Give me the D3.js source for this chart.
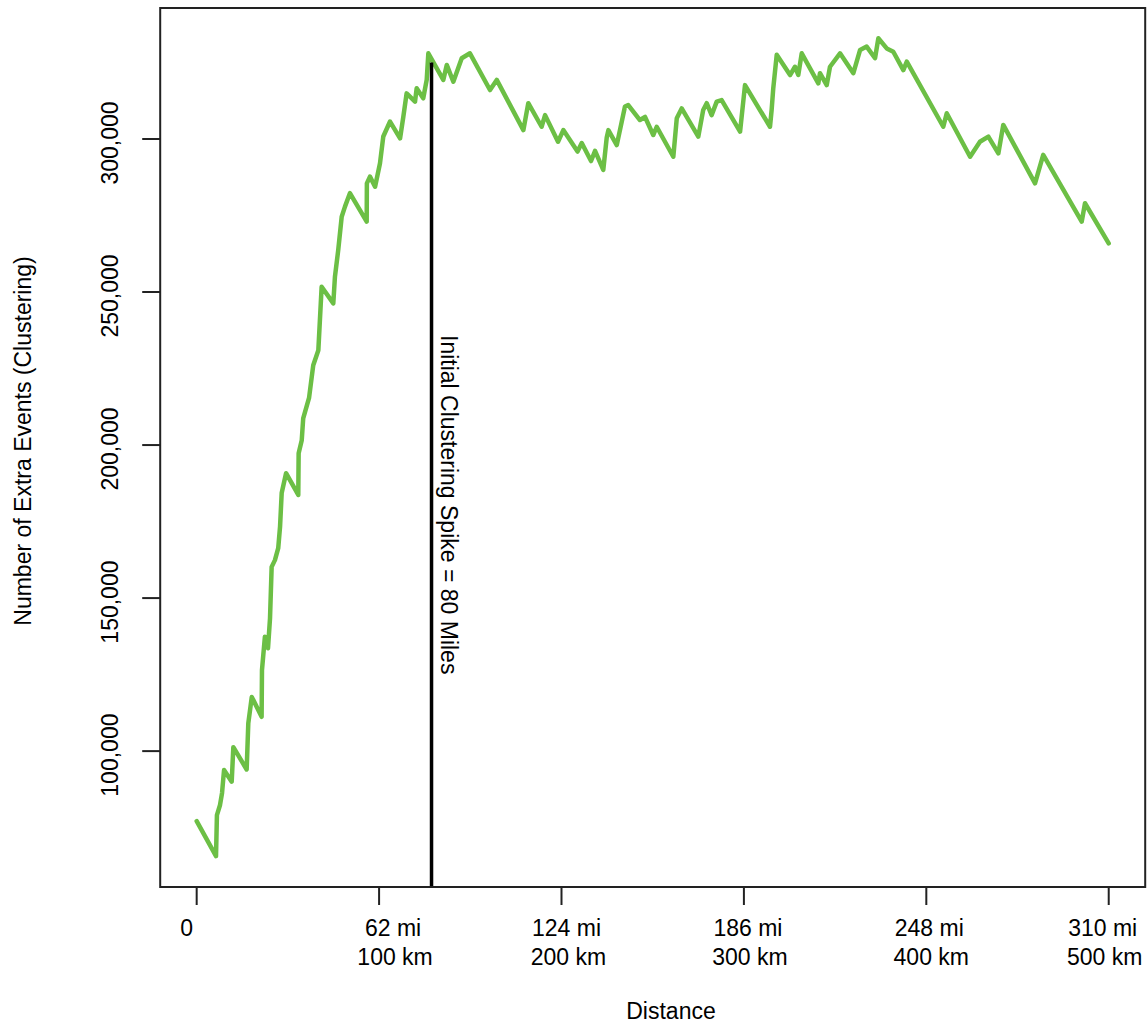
<!DOCTYPE html>
<html>
<head>
<meta charset="utf-8">
<script src="https://cdn.jsdelivr.net/npm/d3@7"></script>
<style>
  body { margin: 0; background: #fff; }
  text { font-family: "Liberation Sans", Arial, sans-serif; fill: #000; }
</style>
</head>
<body>
<div id="my_dataviz"></div>
<script>
// Distance along the route (km) and number of extra events at that distance
const distanceKm = [
  0, 10.6, 11.1, 12.8, 13.9, 15.0, 19.2, 20.1, 27.4, 28.3, 30.2, 35.6, 35.8, 37.4, 39.1, 40.2,
  41.1, 42.9, 44.7, 45.7, 46.6, 49.0, 55.7, 55.9, 57.6, 58.4, 61.6, 63.9, 66.7, 68.5, 74.9,
  75.8, 77.6, 79.5, 81.3, 84.0, 93.2, 93.3, 95.0, 97.8, 100.5, 102.3, 106.0, 111.5, 113.3,
  115.1, 119.7, 120.6, 124.2, 126.1, 127.0, 135.2, 137.1, 140.7, 145.3, 149.8, 160.8, 164.5,
  179.1, 181.8, 189.1, 191.0, 198.1, 201.0, 208.8, 211.1, 216.2, 218.4, 222.9, 224.8, 225.7,
  230.3, 234.8, 236.6, 243.0, 245.8, 250.3, 252.2, 261.3, 263.2, 265.9, 275.0, 277.7, 279.6,
  282.3, 285.1, 287.8, 297.9, 300.6, 314.3, 315.2, 316.1, 318.0, 325.3, 328.0, 329.8, 331.7,
  340.8, 341.7, 345.4, 347.2, 352.7, 360.0, 363.7, 367.3, 371.9, 373.7, 378.3, 381.9, 387.4,
  389.3, 409.3, 411.2, 424.0, 429.4, 434.0, 439.5, 442.2, 459.6, 464.1, 485.2, 487.0, 500
];
const extraEvents = [
  77100, 65700, 79100, 82400, 86300, 93800, 90000, 101300, 94000, 109100, 117700, 111200,
  126500, 137400, 133600, 143400, 160200, 162400, 166300, 173300, 184300, 190800, 183700,
  197300, 201600, 208700, 215400, 226100, 231000, 251700, 246300, 255000, 263700, 274600,
  277900, 282300, 273000, 285500, 287700, 284400, 292100, 300800, 305700, 300200, 307300,
  314900, 312200, 316600, 313300, 319300, 328000, 319300, 324200, 318700, 326400, 328000,
  316000, 319300, 302900, 311700, 304000, 307800, 299100, 302900, 295900, 298700, 292800,
  296100, 289900, 300500, 302900, 298000, 310600, 311100, 306200, 307200, 301300, 304000,
  294200, 306800, 310000, 300800, 309500, 311700, 307800, 312200, 312700, 302400, 317600,
  304000, 309500, 316600, 327500, 320900, 323600, 320900, 328000, 318200, 321500, 317600,
  323600, 328000, 321500, 329100, 330200, 326400, 332900, 329600, 328500, 322500, 325300,
  304000, 308400, 294200, 299100, 300800, 295300, 304600, 285500, 294800, 273000, 279000, 265900
];

// Axis ticks
const xTicksKm = [0, 100, 200, 300, 400, 500];
const xTickMiles = ["0", "62 mi", "124 mi", "186 mi", "248 mi", "310 mi"];
const xTickKmLabels = ["", "100 km", "200 km", "300 km", "400 km", "500 km"];
const yTicks = [100000, 150000, 200000, 250000, 300000];

// Annotation
const spikeMiles = 80;
const spikeValue = 325000;
const spikeLabel = "Initial Clustering Spike = 80 Miles";

const W = 1147, H = 1025;
const margin = { top: 8, right: 1.8, bottom: 138, left: 160.2 };
const fontSize = 23;

const svg = d3.select("#my_dataviz")
  .append("svg")
  .attr("width", W)
  .attr("height", H);

// R style: limits padded 4% beyond the data range
const x = d3.scaleLinear()
  .domain([-20, 520])
  .range([margin.left, W - margin.right]);

const y = d3.scaleLinear()
  .domain([55600, 342800])
  .range([H - margin.bottom, margin.top]);

const fmt = d3.format(",");

// Green line
const data = distanceKm.map((d, i) => ({ x: d, y: extraEvents[i] }));
svg.append("path")
  .datum(data)
  .attr("fill", "none")
  .attr("stroke", "#6cbf45")
  .attr("stroke-width", 4.5)
  .attr("stroke-linejoin", "round")
  .attr("stroke-linecap", "round")
  .attr("d", d3.line().x(d => x(d.x)).y(d => y(d.y)));

// Vertical marker at 80 miles
const spikeKm = spikeMiles * 1.609344;
svg.append("line")
  .attr("x1", x(spikeKm)).attr("x2", x(spikeKm))
  .attr("y1", y.range()[0]).attr("y2", y(spikeValue))
  .attr("stroke", "#000")
  .attr("stroke-width", 3.5);

svg.append("text")
  .attr("transform", `translate(${x(spikeKm) + 9},335) rotate(90)`)
  .attr("font-size", fontSize)
  .text(spikeLabel);

// Box around the plot
svg.append("rect")
  .attr("x", margin.left)
  .attr("y", margin.top)
  .attr("width", W - margin.left - margin.right)
  .attr("height", H - margin.top - margin.bottom)
  .attr("fill", "none")
  .attr("stroke", "#222")
  .attr("stroke-width", 2);

// X axis ticks and two-line labels
const bottom = y.range()[0];
const xAxis = svg.append("g");
xAxis.selectAll("line")
  .data(xTicksKm)
  .join("line")
  .attr("x1", d => x(d)).attr("x2", d => x(d))
  .attr("y1", bottom).attr("y2", bottom + 18)
  .attr("stroke", "#222")
  .attr("stroke-width", 2);

const labelDx = [-10, 14, 5, 4, 3, -6];
const xLab = xAxis.selectAll("text")
  .data(xTicksKm)
  .join("text")
  .attr("text-anchor", "middle")
  .attr("font-size", fontSize);
xLab.append("tspan")
  .attr("x", (d, i) => x(d) + labelDx[i])
  .attr("y", bottom + 49)
  .text((d, i) => xTickMiles[i]);
xLab.append("tspan")
  .attr("x", (d, i) => x(d) + labelDx[i] + 2)
  .attr("y", bottom + 78)
  .text((d, i) => xTickKmLabels[i]);

// Y axis ticks and rotated labels
const yAxis = svg.append("g");
yAxis.selectAll("line")
  .data(yTicks)
  .join("line")
  .attr("x1", margin.left - 18).attr("x2", margin.left)
  .attr("y1", d => y(d)).attr("y2", d => y(d))
  .attr("stroke", "#222")
  .attr("stroke-width", 2);

yAxis.selectAll("text")
  .data(yTicks)
  .join("text")
  .attr("transform", d => `translate(118,${y(d) + 4}) rotate(-90)`)
  .attr("text-anchor", "middle")
  .attr("font-size", fontSize)
  .text(d => fmt(d));

// Axis titles
svg.append("text")
  .attr("x", 671)
  .attr("y", 1019)
  .attr("text-anchor", "middle")
  .attr("font-size", fontSize)
  .text("Distance");

svg.append("text")
  .attr("transform", "translate(31,441) rotate(-90)")
  .attr("text-anchor", "middle")
  .attr("font-size", fontSize)
  .text("Number of Extra Events (Clustering)");
</script>
</body>
</html>
